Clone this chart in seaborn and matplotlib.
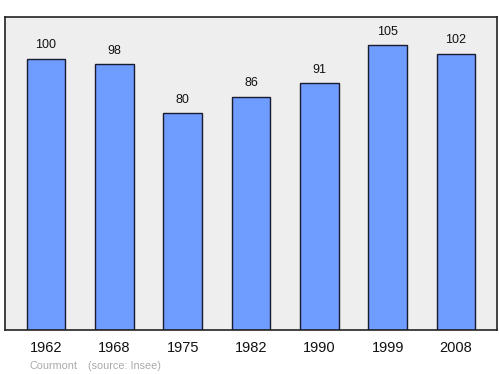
import matplotlib
matplotlib.use("Agg")
import matplotlib.pyplot as plt
import seaborn as sns
import pandas as pd

years = ["1962", "1968", "1975", "1982", "1990", "1999", "2008"]
population = [100, 98, 80, 86, 91, 105, 102]
footer_place = "Courmont"
footer_source = "(source: Insee)"

sns.set_style("white")
plt.rcParams['font.family'] = ['Liberation Sans', 'DejaVu Sans']

df = pd.DataFrame({"year": years, "pop": population})

fig = plt.figure(figsize=(5.0, 3.74), dpi=100)
ax = fig.add_axes([0.01, 0.1176, 0.984, 0.837])
ax.set_facecolor("#eeeeee")

sns.barplot(data=df, x="year", y="pop", color="#6f9cff", saturation=1,
            width=0.57, edgecolor="#1a1a2e", linewidth=1.0, ax=ax)

for i, v in enumerate(population):
    ax.annotate(str(v), xy=(i, v), xytext=(0, 5.5), textcoords="offset points",
                ha="center", va="bottom", fontsize=9, color="#111111")

ax.set_xlim(-0.6, 6.6)
ax.set_ylim(0, 115.5)
ax.set_yticks([])
ax.set_xlabel("")
ax.set_ylabel("")
ax.tick_params(axis="x", length=0, pad=8, labelsize=10.5, colors="#111111")
for s in ax.spines.values():
    s.set_visible(True)
    s.set_color("#222222")
    s.set_linewidth(1.2)

fig.text(0.06, 0.022, footer_place, fontsize=7.8, color="#aaaaaa", ha="left", va="center")
fig.text(0.176, 0.022, footer_source, fontsize=7.8, color="#aaaaaa", ha="left", va="center")

fig.savefig("out.png", dpi=100, facecolor="white")
